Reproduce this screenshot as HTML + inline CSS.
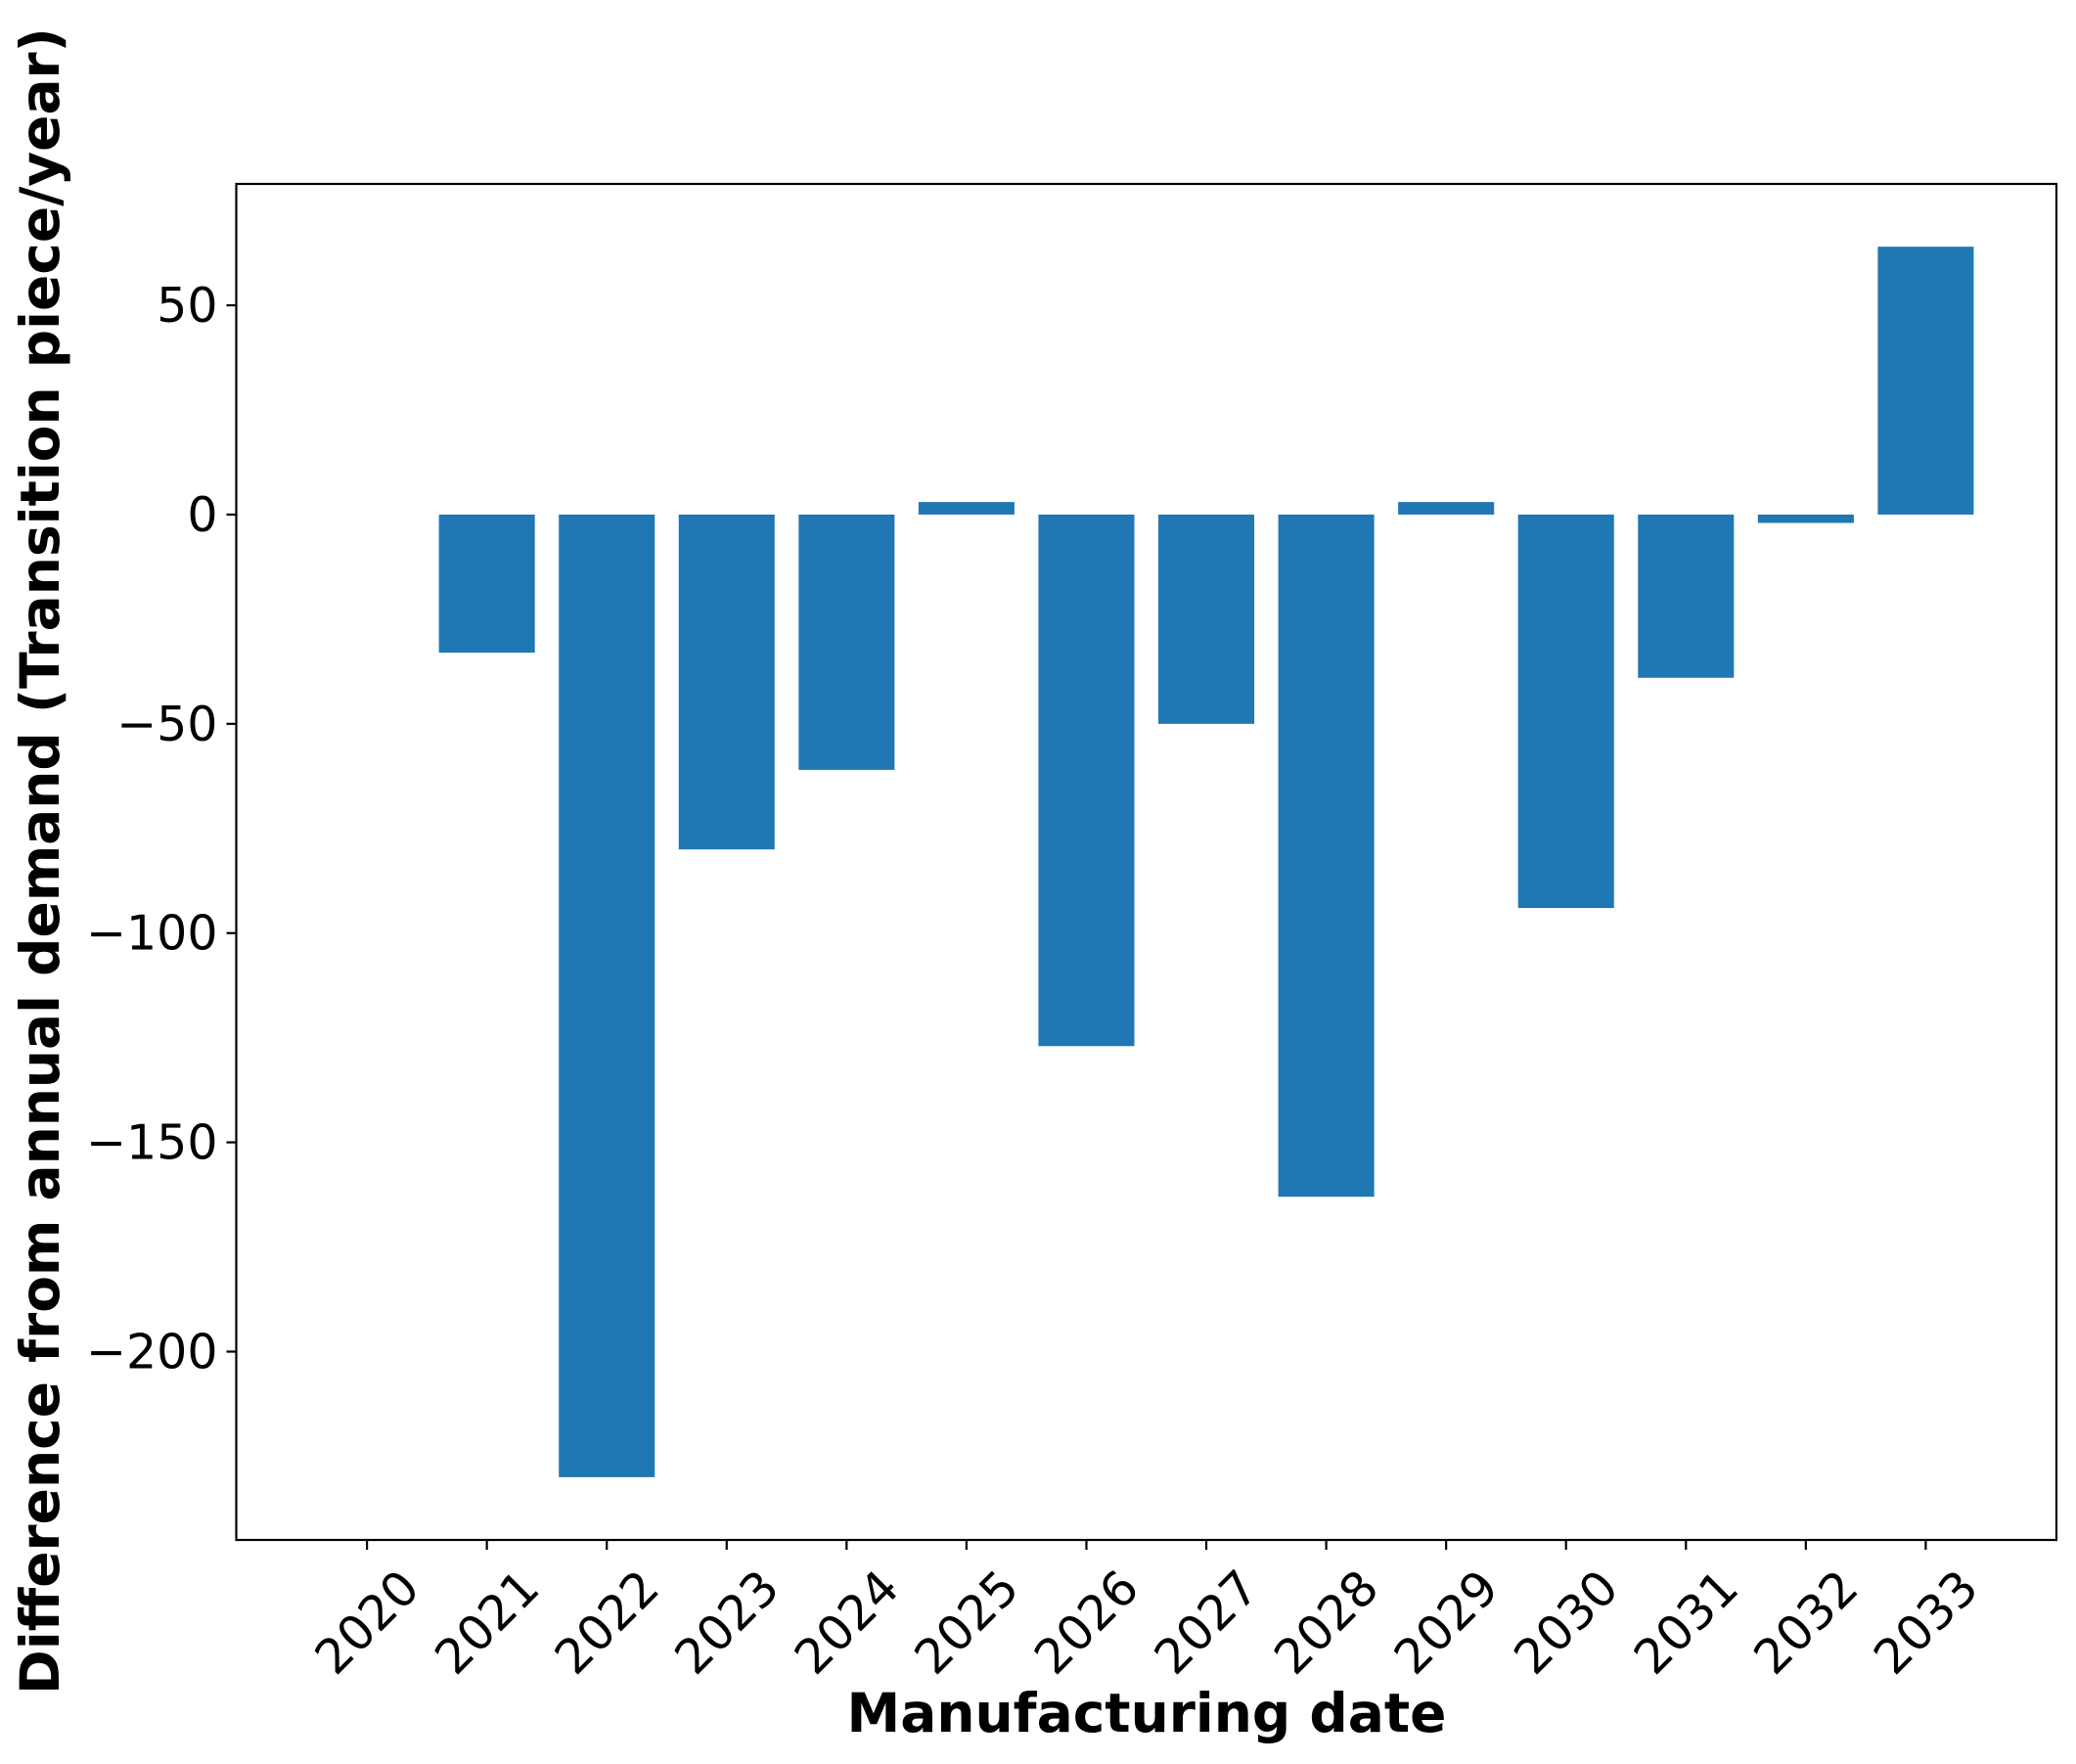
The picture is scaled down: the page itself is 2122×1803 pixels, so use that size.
<!DOCTYPE html>
<html><head><meta charset="utf-8"><style>
html,body{margin:0;padding:0;background:#fff;}
svg{display:block;font-family:"DejaVu Sans","Liberation Sans",sans-serif;}
</style></head><body>
<svg id="chart" width="2122" height="1803" viewBox="0 0 2122 1803">
<rect width="2122" height="1803" fill="#fff"/>
<g id="bars"></g>
<g id="axes"></g>
<text x="1172" y="1770" text-anchor="middle" font-size="55" font-weight="bold">Manufacturing date</text>
<text transform="translate(60,880) rotate(-90)" text-anchor="middle" font-size="55" font-weight="bold">Difference from annual demand (Transition piece/year)</text>
</svg>
<script>
const categories = ["2020","2021","2022","2023","2024","2025","2026","2027","2028","2029","2030","2031","2032","2033"];
const values = [0,-33,-230,-80,-61,3,-127,-50,-163,3,-94,-39,-2,64];
const yTicks = [50,0,-50,-100,-150,-200];
const yTickLabels = ["50","0","\u221250","\u2212100","\u2212150","\u2212200"];

const L=241.5,R=2102,T=188,B=1574;
const xMin=-1.09,xMax=categories.length-1+1.09;
const yMin=-245,yMax=79;
function xs(i){return L+(i-xMin)/(xMax-xMin)*(R-L);}
function ys(v){return B-(v-yMin)/(yMax-yMin)*(B-T);}
const NS="http://www.w3.org/2000/svg";
const bars=document.getElementById('bars'),axes=document.getElementById('axes');
values.forEach((v,i)=>{
  const r=document.createElementNS(NS,'rect');
  const x0=xs(i-0.4),x1=xs(i+0.4);
  const y0=Math.min(ys(v),ys(0)),y1=Math.max(ys(v),ys(0));
  r.setAttribute('x',x0);r.setAttribute('width',x1-x0);
  r.setAttribute('y',y0);r.setAttribute('height',Math.max(y1-y0,0));
  r.setAttribute('fill','#1f77b4');
  
  
  bars.appendChild(r);
});
const frame=document.createElementNS(NS,'rect');
frame.setAttribute('x',L);frame.setAttribute('y',T);frame.setAttribute('width',R-L);frame.setAttribute('height',B-T);
frame.setAttribute('fill','none');frame.setAttribute('stroke','#000');frame.setAttribute('stroke-width','2.2');


axes.appendChild(frame);
yTicks.forEach((t,k)=>{
  const y=ys(t);
  const ln=document.createElementNS(NS,'line');
  ln.setAttribute('x1',L-10);ln.setAttribute('x2',L);ln.setAttribute('y1',y);ln.setAttribute('y2',y);
  ln.setAttribute('stroke','#000');ln.setAttribute('stroke-width','2.2');
  
  
  axes.appendChild(ln);
  const tx=document.createElementNS(NS,'text');
  tx.setAttribute('x',L-19);tx.setAttribute('y',y+17);tx.setAttribute('text-anchor','end');tx.setAttribute('font-size','49');
  tx.textContent=yTickLabels[k];
  
  
  axes.appendChild(tx);
});
categories.forEach((c,i)=>{
  const x=xs(i);
  const ln=document.createElementNS(NS,'line');
  ln.setAttribute('x1',x);ln.setAttribute('x2',x);ln.setAttribute('y1',B);ln.setAttribute('y2',B+10);
  ln.setAttribute('stroke','#000');ln.setAttribute('stroke-width','2.2');
  
  
  axes.appendChild(ln);
  const tx=document.createElementNS(NS,'text');
  tx.setAttribute('transform','translate('+x+',1658) rotate(-45)');
  tx.setAttribute('text-anchor','middle');tx.setAttribute('dy','17');tx.setAttribute('font-size','49');
  tx.textContent=c;
  
  
  axes.appendChild(tx);
});
</script>
</body></html>
